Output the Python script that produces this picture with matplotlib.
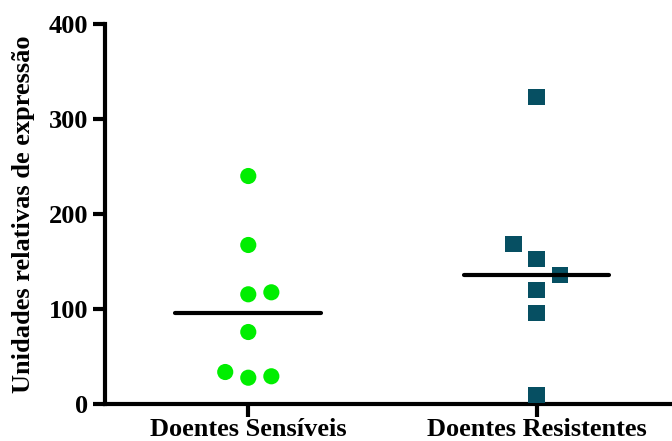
import matplotlib
matplotlib.use("Agg")
import matplotlib.pyplot as plt
import numpy as np

# Data
groups = ["Doentes Sensíveis", "Doentes Resistentes"]
sensiveis = [240.3, 167.7, 115.8, 117.9, 76.1, 34.0, 28.0, 29.5]
sensiveis_offset = [0, 0, 0, 1, 0, -1, 0, 1]
resistentes = [323.2, 169.0, 152.6, 135.8, 120.3, 95.8, 9.5]
resistentes_offset = [0, -1, 0, 1, 0, 0, 0]
yticks = [0, 100, 200, 300, 400]

plt.rcParams["font.family"] = ["Liberation Serif", "DejaVu Serif"]
plt.rcParams["font.weight"] = "bold"

fig = plt.figure(figsize=(6.72, 4.41), dpi=100)
ax = fig.add_axes([0.1563, 0.0832, 0.8437, 0.8617])

step = 0.08
half = 0.253

ax.scatter(0 + np.array(sensiveis_offset) * step, sensiveis, s=135, marker="o",
           color="#00EE00", edgecolors="none", zorder=3, clip_on=False)
ax.scatter(1 + np.array(resistentes_offset) * step, resistentes, s=135, marker="s",
           color="#064F62", edgecolors="none", zorder=3, clip_on=False)

for i, vals in enumerate([sensiveis, resistentes]):
    m = np.median(vals)
    ax.plot([i - half, i + half], [m, m], color="black", lw=3, zorder=4,
            solid_capstyle="round")

ax.set_xlim(-0.497, 1.47)
ax.set_ylim(0, 400)
ax.set_xticks([0, 1])
ax.set_xticklabels(groups, fontsize=19, fontweight="bold")
ax.set_yticks(yticks)
ax.set_yticklabels([str(t) for t in yticks], fontsize=19, fontweight="bold")
ax.set_ylabel("Unidades relativas de expressão", fontsize=19, fontweight="bold",
              labelpad=10)

for side in ["top", "right"]:
    ax.spines[side].set_visible(False)
for side in ["left", "bottom"]:
    ax.spines[side].set_linewidth(3)
ax.tick_params(axis="y", width=3, length=9, direction="out", pad=3)
ax.tick_params(axis="x", width=3, length=9, direction="out", pad=1)

fig.savefig("out.png", dpi=100)
